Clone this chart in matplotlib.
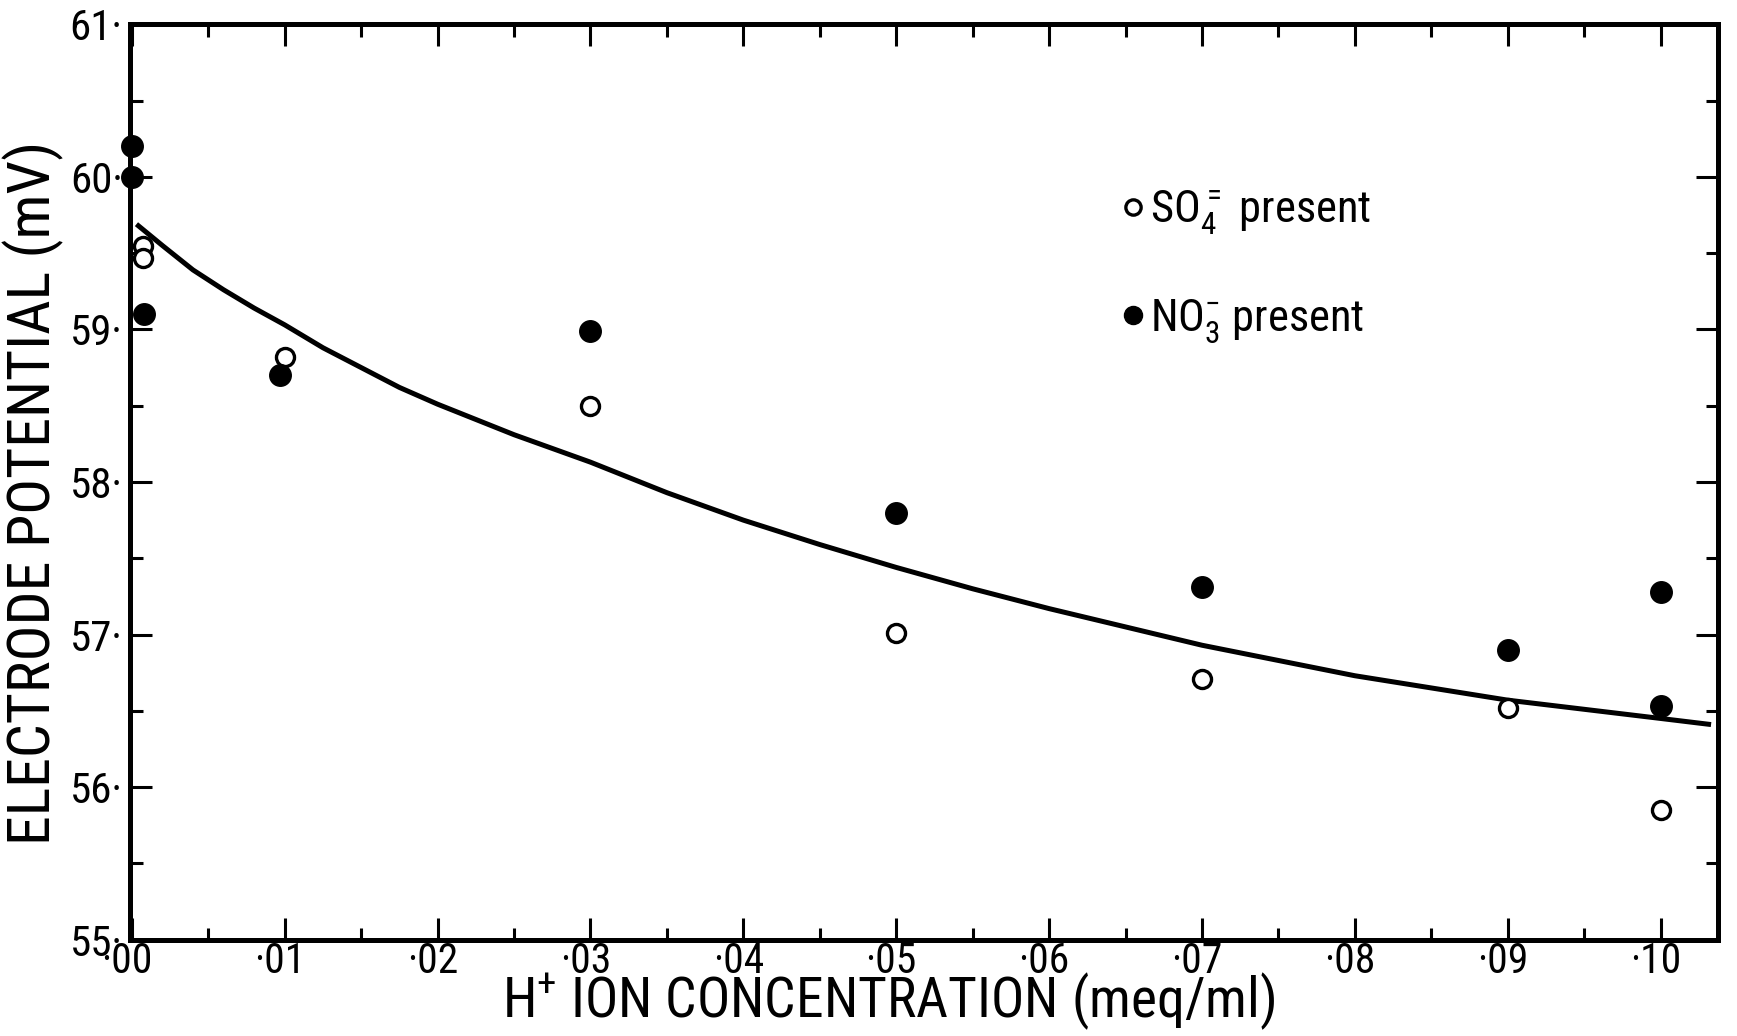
import matplotlib
matplotlib.use("Agg")
import matplotlib.pyplot as plt
from matplotlib import font_manager
from matplotlib.lines import Line2D
from matplotlib.ticker import MultipleLocator, FixedLocator
import matplotlib.transforms as mtransforms

# ====== Font: a narrow face if one is around ======
faces = font_manager.fontManager.ttflist
names = {f.name for f in faces}
STRETCH = "normal"
FONT = "DejaVu Sans"
for cand in ["Liberation Sans Narrow", "Roboto Condensed", "Open Sans Condensed", "Noto Sans Display"]:
    if cand in names:
        FONT = cand
        break
else:
    if any(f.name == "DejaVu Sans" and f.stretch == "condensed" for f in faces):
        STRETCH = "condensed"
plt.rcParams["font.family"] = [FONT, "DejaVu Sans"]
plt.rcParams["font.stretch"] = STRETCH
plt.rcParams["mathtext.default"] = "regular"
narrow = FONT != "DejaVu Sans" or STRETCH == "condensed"
k = 1.0 if narrow else 0.86  # shrink text when only the wide face is present

# ====== Data ======
# SO4= present (open circles)
so4_x = [0.0007, 0.0007, 0.01, 0.03, 0.05, 0.07, 0.09, 0.10]
so4_y = [59.55, 59.47, 58.82, 58.50, 57.01, 56.71, 56.52, 55.85]

# NO3- present (filled circles)
no3_x = [0.0, 0.0, 0.0008, 0.0097, 0.03, 0.05, 0.07, 0.09, 0.10, 0.10]
no3_y = [60.20, 60.00, 59.10, 58.70, 58.99, 57.80, 57.31, 56.90, 57.28, 56.53]

# fitted curve
curve_x = [0.0003, 0.002, 0.004, 0.006, 0.008, 0.010, 0.0125, 0.015, 0.0175,
           0.020, 0.025, 0.030, 0.035, 0.040, 0.045, 0.050, 0.055, 0.060,
           0.065, 0.070, 0.075, 0.080, 0.085, 0.090, 0.095, 0.100, 0.1033]
curve_y = [59.69, 59.55, 59.39, 59.26, 59.14, 59.03, 58.88, 58.75, 58.62,
           58.51, 58.31, 58.13, 57.93, 57.75, 57.59, 57.44, 57.30, 57.17,
           57.05, 56.93, 56.83, 56.73, 56.65, 56.57, 56.51, 56.45, 56.41]

x_ticks = [0.00, 0.01, 0.02, 0.03, 0.04, 0.05, 0.06, 0.07, 0.08, 0.09, 0.10]
x_ticklabels = ["·00", "·01", "·02", "·03", "·04", "·05", "·06", "·07", "·08", "·09", "·10"]
y_ticks = [55, 56, 57, 58, 59, 60, 61]
y_ticklabels = ["55·", "56·", "57·", "58·", "59·", "60·", "61·"]

# ====== Figure ======
fig = plt.figure(figsize=(17.37, 10.36), dpi=100)
ax = fig.add_axes([0.0746, 0.093, 0.9146, 0.8835])

ax.plot(curve_x, curve_y, color="black", lw=3.6, solid_capstyle="butt", zorder=2)
ax.plot(so4_x, so4_y, "o", ms=13, mfc="white", mec="black", mew=2.4, zorder=3)
ax.plot(no3_x, no3_y, "o", ms=15.5, mfc="black", mec="black", zorder=4, clip_on=False)

ax.set_xlim(-0.00015, 0.10377)
ax.set_ylim(55, 61)

ax.xaxis.set_major_locator(FixedLocator(x_ticks))
ax.xaxis.set_minor_locator(MultipleLocator(0.005))
ax.yaxis.set_major_locator(FixedLocator(y_ticks))
ax.yaxis.set_minor_locator(MultipleLocator(0.5))
ax.set_xticklabels(x_ticklabels)
ax.set_yticklabels(y_ticklabels)

ax.tick_params(which="both", direction="in", top=True, right=True, width=2.2, color="black")
ax.tick_params(which="major", length=16)
ax.tick_params(which="minor", length=9)
ax.tick_params(axis="x", which="major", labelsize=30 * k, pad=1)
ax.tick_params(axis="y", which="major", labelsize=31 * k, pad=5)

# keep the digits centred on the tick, the leading dot hangs left
shift = mtransforms.ScaledTranslation(-5 / 100, 0, fig.dpi_scale_trans)
for lab in ax.get_xticklabels():
    lab.set_transform(lab.get_transform() + shift)

for sp in ax.spines.values():
    sp.set_linewidth(3.6)

ax.set_xlabel("H$^{+}$ ION CONCENTRATION (meq/ml)", fontsize=40 * k)
ax.xaxis.set_label_coords(0.478, -0.034)
ax.set_ylabel("ELECTRODE POTENTIAL (mV)", fontsize=43 * k)
ax.yaxis.set_label_coords(-0.041, 0.488)

# ====== Legend ======
handles = [
    Line2D([], [], ls="none", marker="o", ms=11, mfc="white", mec="black", mew=2.4),
    Line2D([], [], ls="none", marker="o", ms=13, mfc="black", mec="black"),
]
labels = ["SO$_{4}^{=}$ present", "NO$_{3}^{-}$ present"]
ax.legend(handles, labels, loc="upper left", bbox_to_anchor=(0.609, 0.845),
          frameon=False, fontsize=32 * k, labelspacing=1.35, handlelength=0.6,
          handletextpad=0.1, borderpad=0)

fig.savefig("out.png", dpi=100, facecolor="white")
